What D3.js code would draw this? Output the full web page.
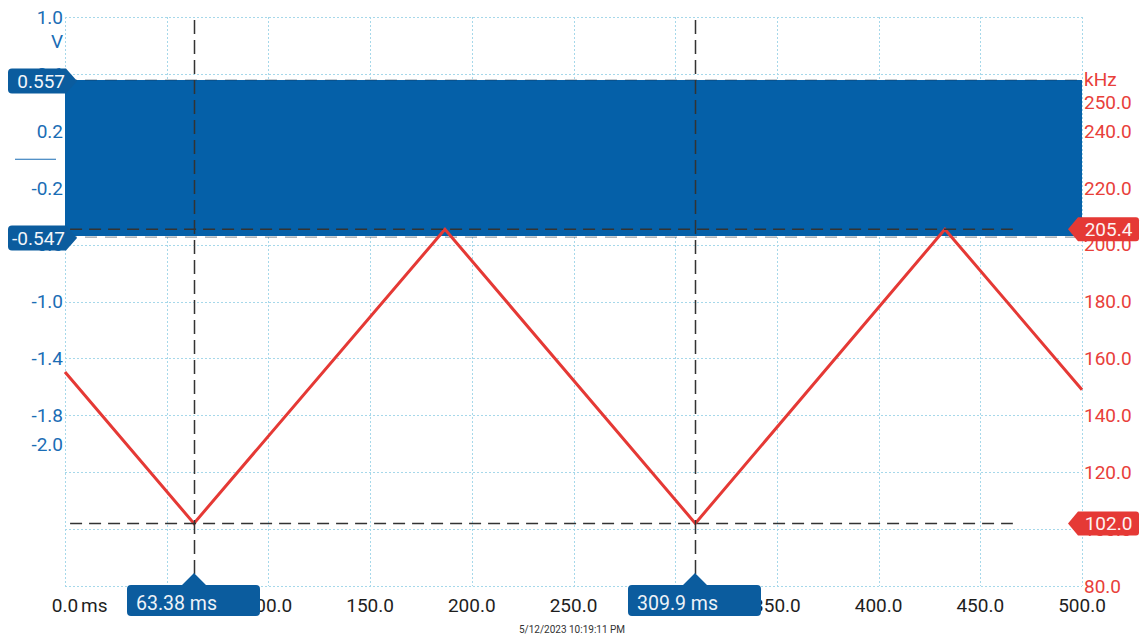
<!DOCTYPE html>
<html><head><meta charset="utf-8">
<script src="https://cdn.jsdelivr.net/npm/d3@7"></script>
<style>
body{margin:0;background:#fff;}
svg{display:block;font-family:Roboto,"Noto Sans",sans-serif;}
</style></head>
<body><svg id="c" width="1144" height="637"></svg>
<script>
// ---------- data ----------
const timeTicks = [0,50,100,150,200,250,300,350,400,450,500];
const timeLabels = ["0.0","50.0","100.0","150.0","200.0","250.0","300.0","350.0","400.0","450.0","500.0"];
const voltGrid = [1.0,0.6,0.2,-0.2,-0.6,-1.0,-1.4,-1.8,-2.2,-2.6,-3.0];
const voltLabels = [1.0,0.6,0.2,-0.2,-0.6,-1.0,-1.4,-1.8,-2.0];
const freqLabels = [250,240,220,200,180,160,140,120,100,80];
// blue signal envelope (dense FM carrier drawn as solid band)
const sigTime = [0,500];
const sigMax  = [0.557,0.557];
const sigMin  = [-0.540,-0.540];
// red frequency trace (kHz) vertices
const fTime = [0,63.38,186.8,309.9,432.6,500];
const fVal  = [155.2,102.0,205.4,102.0,205.4,149.0];
// cursors
const timeCursors = [63.38,309.9];
const timeCursorLabels = ["63.38 ms","309.9 ms"];
const voltCursors = [0.557,-0.547];
const voltCursorLabels = ["0.557","-0.547"];
const freqCursors = [205.4,102.0];
const freqCursorLabels = ["205.4","102.0"];
const timestamp = "5/12/2023 10:19:11 PM";

// ---------- scales ----------
const x = d3.scaleLinear().domain([0,500]).range([65,1082]);
const yV = d3.scaleLinear().domain([-3.0,1.0]).range([586,17]);
const yF = d3.scaleLinear().domain([80,280]).range([586,17]);

const BLUE="#0560a8", BLUEMK="#0b5c9e", BLUETXT="#1a6db5", RED="#e53935", REDTXT="#e8403a";
const svg = d3.select("#c");

// ---------- grid ----------
const grid = svg.append("g").attr("stroke","#a6d8ea").attr("stroke-width",1).attr("stroke-dasharray","2,2");
grid.selectAll("line.v").data(timeTicks).join("line")
  .attr("x1",d=>Math.round(x(d))+0.5).attr("x2",d=>Math.round(x(d))+0.5)
  .attr("y1",yV(1.0)).attr("y2",yV(-3.0));
grid.selectAll("line.h").data(voltGrid).join("line")
  .attr("x1",x(0)).attr("x2",x(500))
  .attr("y1",d=>Math.round(yV(d))+0.5).attr("y2",d=>Math.round(yV(d))+0.5);

// ---------- blue signal band ----------
const sig = sigTime.map((t,i)=>({t,hi:sigMax[i],lo:sigMin[i]}));
svg.append("path").datum(sig)
  .attr("d",d3.area().x(d=>x(d.t)).y0(d=>yV(d.lo)).y1(d=>yV(d.hi)))
  .attr("fill",BLUE);

// volt cursor dashes (on band edges)
svg.selectAll("line.vc").data(voltCursors).join("line")
  .attr("x1",x(0)).attr("x2",x(500))
  .attr("y1",d=>yV(d)).attr("y2",d=>yV(d))
  .attr("stroke","#1b2a3a").attr("stroke-width",1.2).attr("stroke-dasharray","12,8").attr("opacity",0.45);

// ---------- red trace ----------
const fr = fTime.map((t,i)=>({t,v:fVal[i]}));
svg.append("path").datum(fr)
  .attr("d",d3.line().x(d=>x(d.t)).y(d=>yF(d.v)))
  .attr("fill","none").attr("stroke",RED).attr("stroke-width",3).attr("stroke-linejoin","miter");

// ---------- frequency cursors ----------
svg.selectAll("line.fc").data(freqCursors).join("line")
  .attr("x1",x(2.5)).attr("x2",x(466))
  .attr("y1",d=>yF(d)).attr("y2",d=>yF(d))
  .attr("stroke","#333").attr("stroke-width",1.5).attr("stroke-dasharray","12,7");

// ---------- time cursors ----------
svg.selectAll("line.tc").data(timeCursors).join("line")
  .attr("x1",d=>Math.round(x(d))+0.5).attr("x2",d=>Math.round(x(d))+0.5)
  .attr("y1",yV(1.0)+3).attr("y2",575)
  .attr("stroke","#333").attr("stroke-width",1.5).attr("stroke-dasharray","14,6");

// ---------- left axis labels ----------
svg.append("g").selectAll("text").data(voltLabels).join("text")
  .attr("x",63).attr("y",d=>yV(d)).attr("dy","0.36em").attr("text-anchor","end")
  .attr("font-size",19).attr("fill",BLUETXT).text(d=>d.toFixed(1));
svg.append("text").attr("x",63).attr("y",yV(1.0)+24).attr("dy","0.36em").attr("text-anchor","end")
  .attr("font-size",19).attr("fill",BLUETXT).text("V");
svg.append("line").attr("x1",15).attr("x2",56).attr("y1",yV(0)).attr("y2",yV(0))
  .attr("stroke",BLUETXT).attr("stroke-width",1.2);

// ---------- right axis labels ----------
svg.append("g").selectAll("text").data(freqLabels).join("text")
  .attr("x",1084).attr("y",d=>yF(d)).attr("dy","0.36em")
  .attr("font-size",19).attr("fill",REDTXT).text(d=>d.toFixed(1));
svg.append("text").attr("x",1084).attr("y",yF(258)).attr("dy","0.36em")
  .attr("font-size",19).attr("fill",REDTXT).text("kHz");

// ---------- bottom axis labels ----------
svg.append("g").selectAll("text").data(timeTicks).join("text")
  .attr("x",d=>x(d)).attr("y",605).attr("dy","0.36em").attr("text-anchor","middle")
  .attr("font-size",19).attr("fill","#1e1e1e").text((d,i)=>timeLabels[i]);
svg.append("text").attr("x",x(0)+16).attr("y",605).attr("dy","0.36em")
  .attr("font-size",19).attr("fill","#1e1e1e").text("ms");

svg.append("text").attr("x",572).attr("y",629).attr("dy","0.36em").attr("text-anchor","middle")
  .attr("font-size",10).attr("fill","#333").text(timestamp);

// ---------- left volt markers ----------
voltCursors.forEach((v,i)=>{
  const yc=yV(v)+1, h=25, l=8, r=66, tip=77, rr=4;
  const p=`M${l+rr},${yc-h/2} L${r},${yc-h/2} L${tip},${yc} L${r},${yc+h/2} L${l+rr},${yc+h/2} Q${l},${yc+h/2} ${l},${yc+h/2-rr} L${l},${yc-h/2+rr} Q${l},${yc-h/2} ${l+rr},${yc-h/2} Z`;
  svg.append("path").attr("d",p).attr("fill",BLUEMK);
  svg.append("text").attr("x",r-1).attr("y",yc).attr("dy","0.36em").attr("text-anchor","end")
    .attr("font-size",19).attr("fill","#f2f6fa").text(voltCursorLabels[i]);
});

// ---------- right freq markers ----------
freqCursors.forEach((v,i)=>{
  const yc=yF(v), h=24, l=1078, r=1139, tip=1068, rr=3;
  const p=`M${l},${yc-h/2} L${r-rr},${yc-h/2} Q${r},${yc-h/2} ${r},${yc-h/2+rr} L${r},${yc+h/2-rr} Q${r},${yc+h/2} ${r-rr},${yc+h/2} L${l},${yc+h/2} L${tip},${yc} Z`;
  svg.append("path").attr("d",p).attr("fill",RED);
  svg.append("text").attr("x",(l+r)/2).attr("y",yc).attr("dy","0.36em").attr("text-anchor","middle")
    .attr("font-size",19).attr("fill","#fdf2f2").text(freqCursorLabels[i]);
});

// ---------- bottom time markers ----------
timeCursors.forEach((t,i)=>{
  const xc=Math.round(x(t)), l=xc-67, r=xc+66, top=585, bot=616, rr=4, tipY=573;
  const p=`M${l+rr},${top} L${xc-12},${top} L${xc},${tipY} L${xc+12},${top} L${r-rr},${top} Q${r},${top} ${r},${top+rr} L${r},${bot-rr} Q${r},${bot} ${r-rr},${bot} L${l+rr},${bot} Q${l},${bot} ${l},${bot-rr} L${l},${top+rr} Q${l},${top} ${l+rr},${top} Z`;
  svg.append("path").attr("d",p).attr("fill",BLUEMK);
  svg.append("text").attr("x",l+9).attr("y",(top+bot)/2+2).attr("dy","0.36em")
    .attr("font-size",19.5).attr("fill","#eef3f8").text(timeCursorLabels[i]);
});
</script></body></html>
